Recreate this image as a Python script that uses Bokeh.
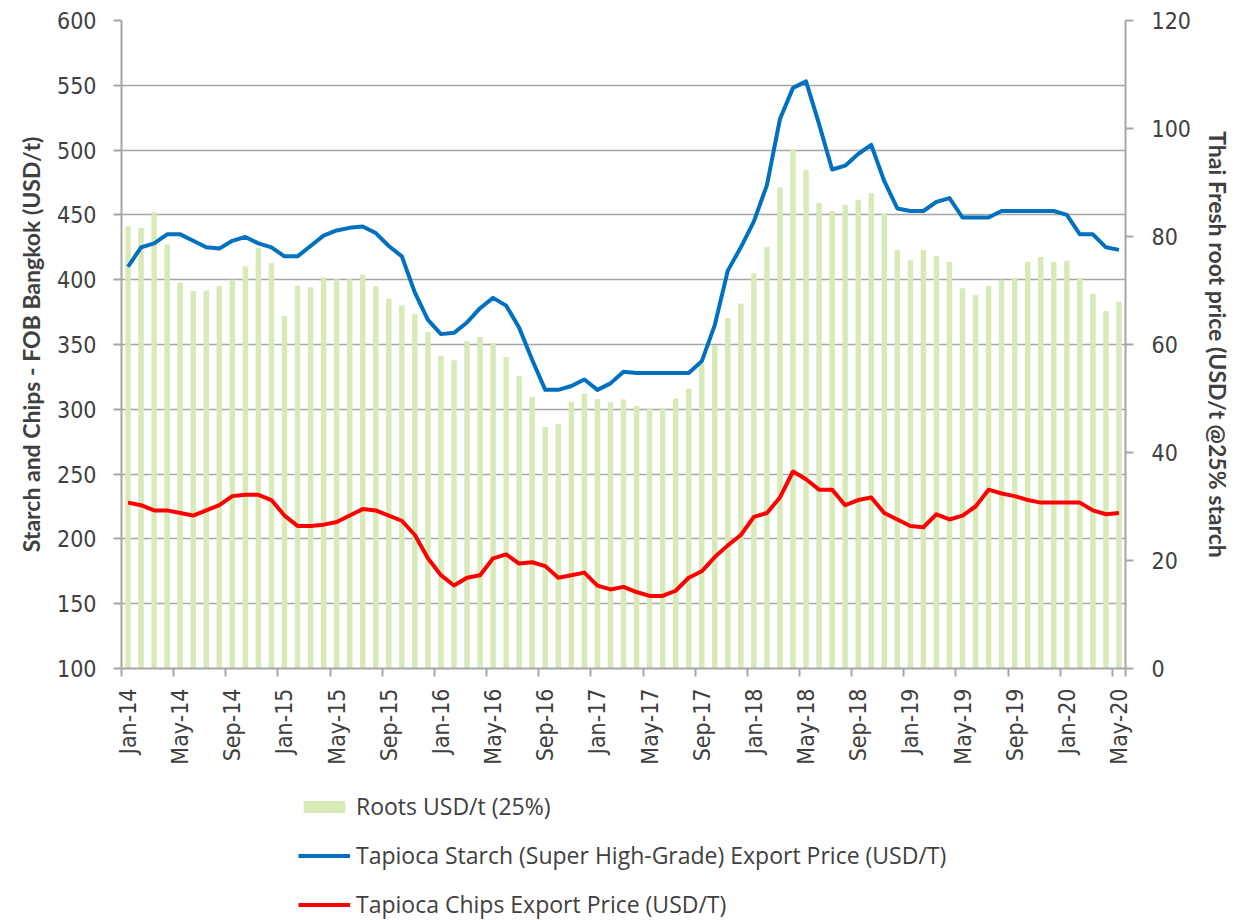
import math
from bokeh.plotting import figure
from bokeh.models import (Range1d, LinearAxis, FixedTicker, Legend, LegendItem)
from bokeh.layouts import column
from bokeh.embed import file_html
from bokeh.resources import INLINE

months = [f"{m}-{y}" for y in range(14, 21) for m in
          ["Jan", "Feb", "Mar", "Apr", "May", "Jun", "Jul", "Aug", "Sep", "Oct", "Nov", "Dec"]][:77]

roots = [81.9, 81.6, 84.5, 78.5, 71.5, 69.9, 70.0, 70.9, 72.0, 74.5, 77.9, 75.1,
         65.3, 70.9, 70.6, 72.4, 72.1, 72.1, 72.9, 70.8, 68.5, 67.2, 65.6, 62.3,
         57.9, 57.1, 60.6, 61.4, 60.3, 57.7, 54.1, 50.3, 44.7, 45.3, 49.4, 50.9,
         49.9, 49.3, 49.8, 48.6, 48.1, 48.2, 50.0, 51.8, 56.4, 59.9, 64.9, 67.6,
         73.2, 78.1, 89.1, 96.1, 92.3, 86.2, 84.7, 85.9, 86.8, 88.0, 84.3, 77.5,
         75.6, 77.5, 76.4, 75.3, 70.4, 69.1, 70.9, 72.0, 72.3, 75.3, 76.2, 75.3,
         75.5, 72.3, 69.4, 66.2, 67.9]

starch = [410, 425, 428, 435, 435, 430, 425, 424, 430, 433, 428, 425,
          418, 418, 426, 434, 438, 440, 441, 436, 426, 418, 390, 369,
          358, 359, 367, 378, 386, 380, 363, 338, 315, 315, 318, 323,
          315, 320, 329, 328, 328, 328, 328, 328, 337, 365, 407, 425,
          445, 473, 524, 548, 553, 520, 485, 488, 497, 504, 476, 455,
          453, 453, 460, 463, 448, 448, 448, 453, 453, 453, 453, 453,
          450, 435, 435, 425, 423]

chips = [228, 226, 222, 222, 220, 218, 222, 226, 233, 234, 234, 230,
         218, 210, 210, 211, 213, 218, 223, 222, 218, 214, 203, 185,
         172, 164, 170, 172, 185, 188, 181, 182, 179, 170, 172, 174,
         164, 161, 163, 159, 156, 156, 160, 170, 175, 186, 195, 203,
         217, 220, 232, 252, 246, 238, 238, 226, 230, 232, 220, 215,
         210, 209, 219, 215, 218, 225, 238, 235, 233, 230, 228, 228,
         228, 228, 222, 219, 220]

series_names = ["Roots USD/t (25%)",
                "Tapioca Starch (Super High-Grade) Export Price (USD/T)",
                "Tapioca Chips Export Price (USD/T)"]

xc = [i + 0.5 for i in range(len(months))]
label_idx = list(range(0, len(months), 4))

GREY = "#a6a6a6"
TXT = "#404040"
BAR = "#d7eab8"
BLUE = "#0070c0"
RED = "#ff0000"
TICKFONT = "DejaVu Sans Condensed"
TITLEFONT = "Lato"
LEGFONT = "Open Sans"

p = figure(width=1253, height=780, output_backend="svg", toolbar_location=None,
           x_range=Range1d(0, len(months)), y_range=Range1d(100, 600),
           min_border_left=121, min_border_right=128, min_border_top=20,
           min_border_bottom=112)
p.extra_y_ranges = {"right": Range1d(0, 120)}
p.outline_line_color = None

bars = p.vbar(x=xc, top=roots, bottom=0, width=0.42, y_range_name="right",
              fill_color=BAR, line_color=None)
l1 = p.line(xc, starch, line_color=BLUE, line_width=4, line_join="round")
l2 = p.line(xc, chips, line_color=RED, line_width=4, line_join="round")

# x axis
xa = p.xaxis[0]
xa.ticker = FixedTicker(ticks=[xc[i] for i in label_idx],
                        minor_ticks=[float(i) for i in label_idx] + [float(len(months))])
xa.major_label_overrides = {xc[i]: months[i] for i in label_idx}
xa.major_label_orientation = math.pi / 2
xa.major_tick_out = 0
xa.major_tick_in = 0
xa.minor_tick_out = 8
xa.minor_tick_in = 0
xa.minor_tick_line_color = GREY
xa.minor_tick_line_width = 2
xa.axis_line_color = GREY
xa.axis_line_width = 2
xa.major_label_standoff = 12
xa.major_label_text_font = TICKFONT
xa.major_label_text_font_size = "23px"
xa.major_label_text_color = TXT

# left axis
ya = p.yaxis[0]
ya.ticker = FixedTicker(ticks=list(range(100, 601, 50)))
ya.minor_tick_line_color = None
ya.major_tick_out = 8
ya.major_tick_in = 0
ya.major_tick_line_color = GREY
ya.major_tick_line_width = 2
ya.axis_line_color = GREY
ya.axis_line_width = 2
ya.major_label_standoff = 17
ya.major_label_text_font = TICKFONT
ya.major_label_text_font_size = "23px"
ya.major_label_text_color = TXT
ya.axis_label = "Starch and Chips - FOB Bangkok (USD/t)"
ya.axis_label_text_font = TITLEFONT
ya.axis_label_text_font_style = "bold"
ya.axis_label_text_font_size = "23px"
ya.axis_label_text_color = TXT
ya.axis_label_standoff = 9

# right axis
ra = LinearAxis(y_range_name="right", ticker=FixedTicker(ticks=list(range(0, 121, 20))))
ra.minor_tick_line_color = None
ra.major_tick_out = 8
ra.major_tick_in = 0
ra.major_tick_line_color = GREY
ra.major_tick_line_width = 2
ra.axis_line_color = GREY
ra.axis_line_width = 2
ra.major_label_standoff = 18
ra.major_label_text_font = TICKFONT
ra.major_label_text_font_size = "23px"
ra.major_label_text_color = TXT
ra.axis_label = "Thai Fresh root price (USD/t @25% starch"
ra.axis_label_text_font = TITLEFONT
ra.axis_label_text_font_style = "bold"
ra.axis_label_text_font_size = "23px"
ra.axis_label_text_color = TXT
ra.axis_label_standoff = 10
p.add_layout(ra, "right")

p.xgrid.visible = False
p.ygrid.ticker = FixedTicker(ticks=list(range(100, 601, 50)))
p.ygrid.grid_line_color = GREY
p.ygrid.grid_line_width = 1.5

# legend strip below the chart: same series, drawn outside its visible range
q = figure(width=1253, height=140, output_backend="svg", toolbar_location=None,
           x_range=Range1d(0, len(months)), y_range=Range1d(1000, 1001),
           x_axis_type=None, y_axis_type=None, min_border=0)
q.outline_line_color = None
kb = q.vbar(x=xc, top=roots, bottom=0, width=0.42, fill_color=BAR, line_color=None)
k1 = q.line(xc, starch, line_color=BLUE, line_width=4)
k2 = q.line(xc, chips, line_color=RED, line_width=4)

legend = Legend(items=[
    LegendItem(label=series_names[0], renderers=[kb]),
    LegendItem(label=series_names[1], renderers=[k1]),
    LegendItem(label=series_names[2], renderers=[k2]),
], location=(177, 0))
legend.glyph_width = 52
legend.glyph_height = 15
legend.label_height = 15
legend.spacing = 17
legend.padding = 0
legend.margin = 0
legend.label_standoff = 6
legend.border_line_color = None
legend.background_fill_alpha = 0
legend.label_text_font = LEGFONT
legend.label_text_font_size = "23px"
legend.label_text_color = TXT
legend.label_text_baseline = "middle"
q.add_layout(legend, "center")

layout = column(p, q, spacing=0)
open("out.html", "w").write(file_html(layout, INLINE))
